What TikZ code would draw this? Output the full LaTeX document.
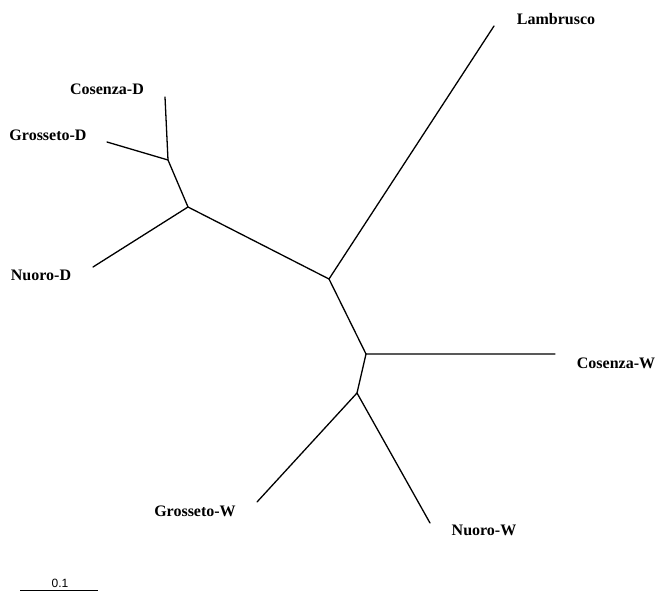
\documentclass[tikz,border=0pt]{standalone}
\usepackage{fontspec}
\setmainfont{Liberation Serif}
\newfontfamily\barfont{Liberation Sans}
\usepackage{tikz}

\begin{document}
\begin{tikzpicture}[x=1pt, y=-1pt,
		branch/.style={line width=1.3pt, line cap=round, line join=round},
		leaf/.style={font=\fontsize{16}{18}\selectfont\bfseries, inner sep=0pt}]
			\useasboundingbox (0, 0) rectangle (655, 591);
			\coordinate (r) at (329, 279);
			\coordinate (d1) at (188, 207);
			\coordinate (d2) at (168, 160);
			\coordinate (w1) at (366, 354);
			\coordinate (w2) at (357, 393);
			\coordinate (cosD) at (165, 97);
			\coordinate (groD) at (107, 142);
			\coordinate (nuoD) at (93, 267);
			\coordinate (lam) at (494, 26);
			\coordinate (cosW) at (555, 354);
			\coordinate (groW) at (257, 502);
			\coordinate (nuoW) at (430, 523);
			
			\draw[branch] (lam) -- (r) -- (d1) -- (d2) -- (cosD);
			\draw[branch] (d2) -- (groD);
			\draw[branch] (d1) -- (nuoD);
			\draw[branch] (r) -- (w1) -- (cosW);
			\draw[branch] (w1) -- (w2) -- (groW);
			\draw[branch] (w2) -- (nuoW);
			
			\node[leaf] (tCosD) at (107, 89) {Cosenza-D};
			\node[leaf] (tGroD) at (48, 135) {Grosseto-D};
			\node[leaf] (tNuoD) at (41, 275) {Nuoro-D};
			\node[leaf] (tLam) at (556, 19) {Lambrusco};
			\node[leaf] (tCosW) at (616, 363) {Cosenza-W};
			\node[leaf] (tGroW) at (195, 511) {Grosseto-W};
			\node[leaf] (tNuoW) at (484, 530) {Nuoro-W};
			
			% scale bar
			\coordinate (sb0) at (20, 590);
			\coordinate (sb1) at (98, 590);
			\draw[line width=0.8pt] (sb0) -- (sb1);
			\node[font=\barfont\fontsize{12}{14}\selectfont, inner sep=0pt] (sbl) at (60, 583) {0.1};
		\end{tikzpicture}
\end{document}
